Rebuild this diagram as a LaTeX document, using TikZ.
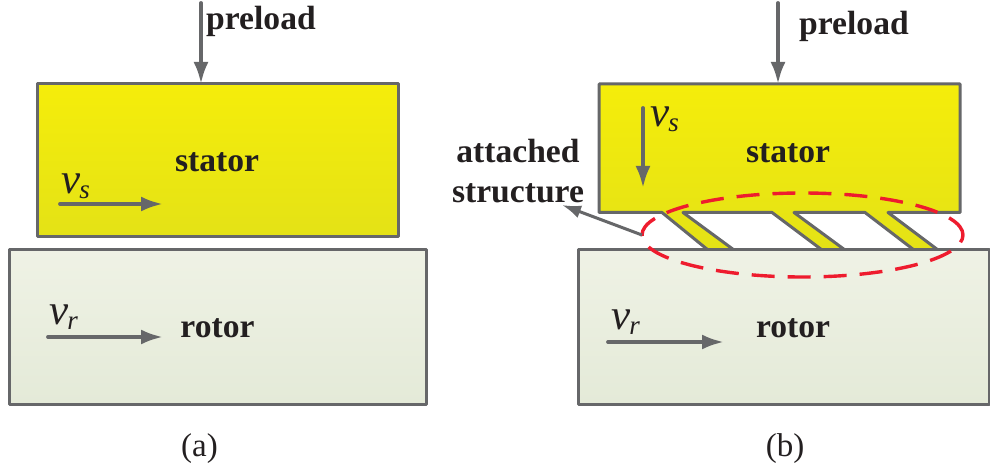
\documentclass[tikz,border=0pt]{standalone}
\usepackage{fontspec}
\setmainfont{Liberation Serif}
\usetikzlibrary{arrows.meta,shapes.geometric}
\definecolor{edgegray}{HTML}{666769}
\definecolor{inkdark}{HTML}{231F20}
\definecolor{ringred}{HTML}{EE1C2E}
\definecolor{stattop}{HTML}{F5ED0A}
\definecolor{statbot}{HTML}{E4E216}
\definecolor{rottop}{HTML}{EFF2E5}
\definecolor{rotbot}{HTML}{E4EAD8}
\newcommand{\velsym}[1]{v\kern-1pt\raisebox{-5pt}{\fontsize{27}{30}\selectfont #1}}
\tikzset{
  box/.style={draw=edgegray,line width=3pt,line join=round,inner sep=0pt,outer sep=0pt},
  statorbox/.style={box,top color=stattop,bottom color=statbot},
  statorfill/.style={draw=edgegray,line width=3pt,line join=round,top color=stattop,bottom color=statbot},
  rotorbox/.style={box,top color=rottop,bottom color=rotbot},
  flow/.style={draw=edgegray,line width=3.8pt,line cap=round,-{Latex[length=22pt,width=15pt]}},
  thinflow/.style={draw=edgegray,line width=3pt,-{Latex[length=19pt,width=13pt]}},
  lab/.style={font=\fontsize{33.6}{36}\selectfont\bfseries,text=inkdark,inner sep=0pt,anchor=base},
  captext/.style={font=\fontsize{33}{36}\selectfont,text=inkdark,inner sep=0pt,anchor=base},
  sym/.style={font=\fontsize{43}{46}\selectfont\itshape,text=inkdark,inner sep=0pt,anchor=base west},
}
\begin{document}
\begin{tikzpicture}[x=1pt,y=-1pt]
\useasboundingbox (0,0) rectangle (990,470);
% (a)
\node[statorbox,minimum width=361pt,minimum height=153pt] (statorA) at (217.5,160.5) {};
\node[rotorbox,minimum width=417pt,minimum height=154pt] (rotorA) at (217.5,327) {};
\coordinate (preA) at (201,3);
\draw[flow] (preA) -- (preA |- statorA.north);
\node[lab,anchor=base west] (preloadA) at (206,30) {preload};
\node[lab] (statorTextA) at (217,172) {stator};
\node[lab] (rotorTextA) at (217.5,337) {rotor};
\node[sym] (vsA) at (61,194) {\velsym{s}};
\coordinate (vsAa) at (60,204);
\coordinate (vsAb) at (163,204);
\draw[flow] (vsAa) -- (vsAb);
\node[sym] (vrA) at (49,324) {\velsym{r}};
\coordinate (vrAa) at (48,337);
\coordinate (vrAb) at (163,337);
\draw[flow] (vrAa) -- (vrAb);
\node[captext] (capA) at (199.5,456) {(a)};
% (b)
\draw[statorfill] (599,84) -- (960,84) -- (960,212.5) -- (888,212.5) -- (938,250) -- (914,250) -- (865,212.5)
  -- (794,212.5) -- (845,250) -- (822,250) -- (772,212.5)
  -- (683,212.5) -- (734,250) -- (708,250) -- (662,212.5) -- (599,212.5) -- cycle;
\coordinate (statorB) at (778,84);
\node[rotorbox,minimum width=411pt,minimum height=154pt] (rotorB) at (783.5,327) {};
\coordinate (preB) at (778,3);
\draw[flow] (preB) -- (statorB);
\node[lab,anchor=base west] (preloadB) at (799,35) {preload};
\node[lab] (statorTextB) at (788,163) {stator};
\node[lab] (rotorTextB) at (793,337) {rotor};
\node[sym] (vsB) at (650,127) {\velsym{s}};
\coordinate (vsBa) at (643,108);
\coordinate (vsBb) at (643,188);
\draw[flow] (vsBa) -- (vsBb);
\node[sym] (vrB) at (611,329) {\velsym{r}};
\coordinate (vrBa) at (608,342);
\coordinate (vrBb) at (724,342);
\draw[flow] (vrBa) -- (vrBb);
\node[lab] (attached) at (518,163) {attached};
\node[lab] (structure) at (518,203) {structure};
\node[draw=ringred,line width=3.4pt,dash pattern=on 23pt off 13pt,ellipse,minimum width=321pt,minimum height=84pt,inner sep=0pt,outer sep=0pt] (ring) at (802.5,235) {};
\coordinate (ringTip) at (562,205);
\draw[thinflow] (ring.west) -- (ringTip);
\node[captext] (capB) at (785,456) {(b)};
\end{tikzpicture}
\end{document}
